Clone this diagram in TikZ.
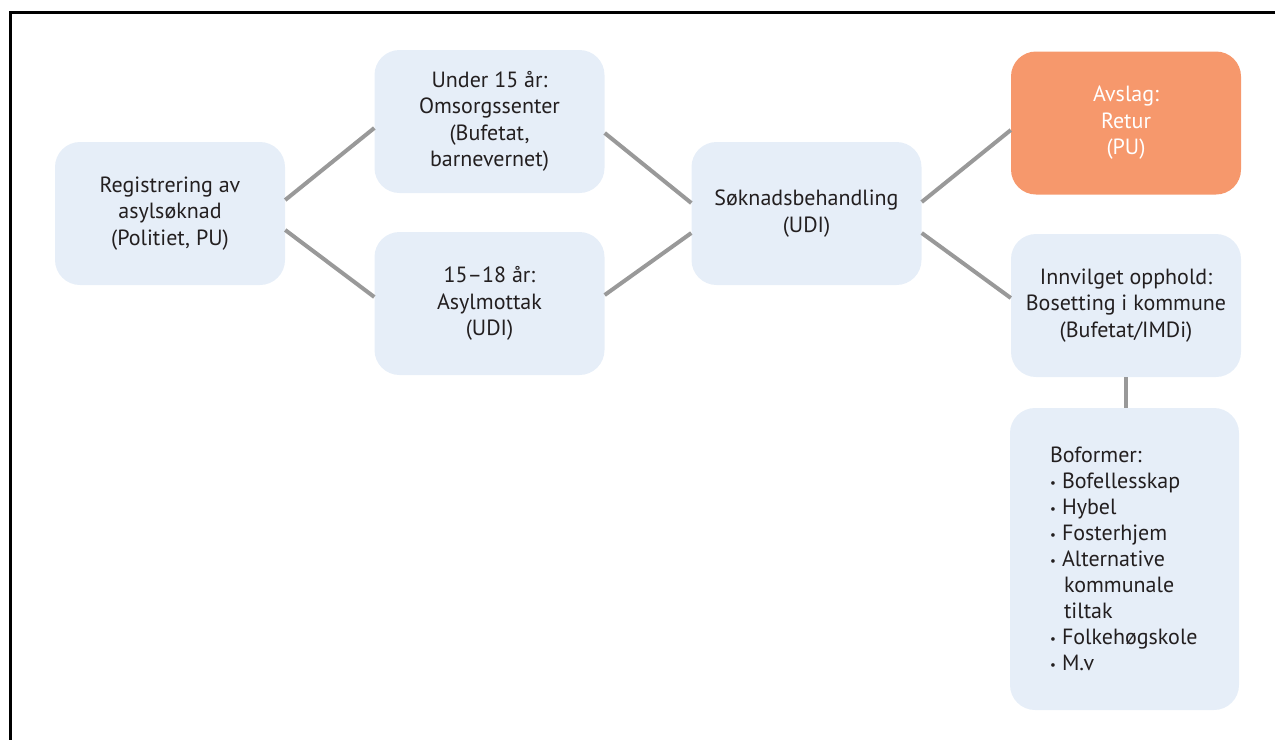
\documentclass[tikz,border=0pt]{standalone}
\usepackage{fontspec}
\setmainfont{PT Sans}
\definecolor{boxfill}{HTML}{E6EEF8}
\definecolor{orangefill}{HTML}{F6986C}
\definecolor{linegray}{HTML}{999999}
\definecolor{txt}{HTML}{231F20}
\tikzset{
  box/.style={fill=boxfill, rounded corners=25pt, minimum width=230pt, minimum height=143pt,
    align=center, text=txt, inner sep=0pt, font=\fontsize{22}{26.5}\selectfont},
  obox/.style={box, fill=orangefill, text=white},
  conn/.style={draw=linegray, line width=4pt},
  frame/.style={draw=black, line width=3pt}
}
\newcommand{\bul}{\makebox[12pt][l]{\raisebox{0.15ex}{\fontsize{13}{13}\selectfont•}}}
\begin{document}
\begin{tikzpicture}[x=1pt,y=-1pt]
\useasboundingbox (0,0) rectangle (1275,740);
\coordinate (ftop) at (1275,12);
\coordinate (fcorner) at (10.5,12);
\coordinate (fbot) at (10.5,740);
\draw[frame] (ftop) -- (fcorner) -- (fbot);

\node[box] (reg) at (170,213.5) {Registrering av\\asylsøknad\\(Politiet, PU)};
\node[box] (u15) at (489.5,121.5) {Under 15 år:\\Omsorgssenter\\(Bufetat,\\barnevernet)};
\node[box] (a15) at (489.5,303.5) {15–18 år:\\Asylmottak\\(UDI)};
\node[box] (sok) at (806.5,213.5) {Søknadsbehandling\\(UDI)};
\node[obox] (avs) at (1126,123) {Avslag:\\Retur\\(PU)};
\node[box] (inn) at (1126,305.5) {Innvilget opphold:\\Bosetting i kommune\\(Bufetat/IMDi)};
\node[box, font=\fontsize{22}{26}\selectfont, minimum width=229pt, minimum height=302pt, text width=149pt, align=left] (bof) at (1124.5,559)
  {Boformer:\\\bul Bofellesskap\\\bul Hybel\\\bul Fosterhjem\\\bul Alternative\\\hspace*{14pt}kommunale\\\hspace*{14pt}tiltak\\\bul Folkehøgskole\\\bul M.v};

\draw[conn] ([yshift=13.5pt]reg.east) -- ([yshift=-6.5pt]u15.west);
\draw[conn] ([yshift=-16.5pt]reg.east) -- ([yshift=6.5pt]a15.west);
\draw[conn] ([yshift=-11.5pt]u15.east) -- ([yshift=10.5pt]sok.west);
\draw[conn] ([yshift=8.5pt]a15.east) -- ([yshift=-19.5pt]sok.west);
\draw[conn] ([yshift=11.5pt]sok.east) -- ([yshift=-7pt]avs.west);
\draw[conn] ([yshift=-19.5pt]sok.east) -- ([yshift=7.5pt]inn.west);
\draw[conn] (inn.south) -- (inn.south |- bof.north);
\end{tikzpicture}
\end{document}
